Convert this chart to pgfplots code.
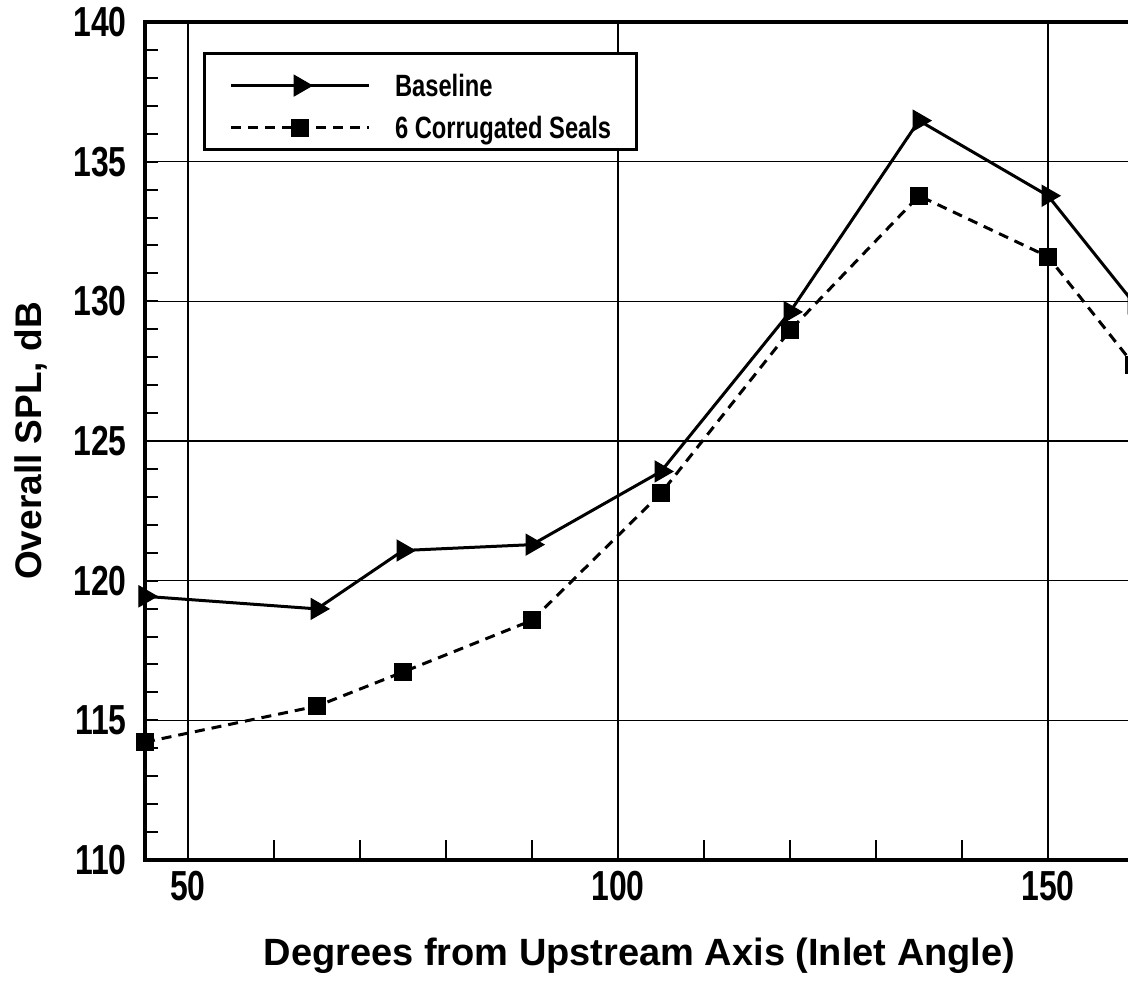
\documentclass[border=0pt]{standalone}
\usepackage{fontspec}
\setmainfont{Liberation Sans}
\newfontfamily\condfont[FakeStretch=0.76]{Liberation Sans}
\newfontfamily\legfont[FakeStretch=0.77]{Liberation Sans}
\usepackage{pgfplots}
\pgfplotsset{compat=1.18}

\begin{document}
\begin{tikzpicture}
\begin{axis}[
  at={(0,0)}, anchor=south west,
  scale only axis,
  width=494.5pt, height=419pt,
  xmin=45, xmax=160, ymin=110, ymax=140,
  xtick={50,100,150}, ytick={110,115,...,140},
  minor ytick={111,...,139},
  extra x ticks={60,70,80,90,110,120,130,140},
  extra x tick labels={},
  extra x tick style={grid=none, major tick length=10pt, tick style={line width=0.8pt, black}},
  tick pos=left, tick align=inside,
  major tick length=0pt,
  minor tick length=6.5pt,
  minor tick style={line width=1pt, black},
  grid=major,
  major grid style={black, line width=0.8pt},
  axis line style={line width=2pt},
  clip=false,
  /pgf/number format/assume math mode=true,
  yticklabel style={font=\condfont\bfseries\fontsize{21}{21}\selectfont, inner sep=0pt, anchor=east, xshift=-9pt},
  xticklabel style={font=\condfont\bfseries\fontsize{21}{21}\selectfont, inner sep=0pt, anchor=north, yshift=-5.5pt},
  xlabel={Degrees from Upstream Axis (Inlet Angle)},
  xlabel style={font=\bfseries\fontsize{19}{19}\selectfont, at={(axis description cs:0.5,-0.1253)}, anchor=base},
  ylabel={Overall SPL, dB},
  ylabel style={font=\bfseries\fontsize{18.5}{18.5}\selectfont, at={(axis description cs:-0.1153,0.5)}, anchor=center},
  legend image code/.code={
    \draw[#1, mark repeat=2, mark phase=2] plot coordinates {(0pt,5.5pt) (34.5pt,5.5pt) (69pt,5.5pt)};
    \path[draw=none, fill=none] (0pt,5.5pt) -- (82pt,5.5pt);
  },
  legend style={at={(axis description cs:0.0586,0.9642)}, anchor=north west,
    draw=black, line width=1.6pt, inner xsep=12.5pt, inner ysep=4pt, row sep=2pt, column sep=0pt,
    font=\legfont\bfseries\fontsize{15.4}{15.4}\selectfont,
    cells={anchor=base west},
    nodes={inner sep=0pt, text height=17.5pt, text depth=1.5pt}},
]
\addplot[black, line width=1.5pt, mark=triangle*, mark size=6pt,
  mark options={solid, rotate=-90, line width=0.5pt}] coordinates {
  (45,119.44) (65,118.99) (75,121.08) (90,121.29) (105,123.91)
  (120,129.62) (135,136.47) (150,133.78) (160,129.93)};
\addlegendentry{Baseline}
\addplot[black, line width=1.5pt, dash pattern=on 5pt off 3.5pt, mark=square*, mark size=4.3pt,
  mark options={solid, line width=0.5pt}] coordinates {
  (45,114.22) (65,115.51) (75,116.73) (90,118.58) (105,123.13)
  (120,128.96) (135,133.78) (150,131.60) (160,127.72)};
\addlegendentry{6 Corrugated Seals}
\end{axis}
\pgfresetboundingbox
\path[use as bounding box] (-72.5pt,-62.65pt) rectangle (491.5pt,430pt);
\end{tikzpicture}
\end{document}
